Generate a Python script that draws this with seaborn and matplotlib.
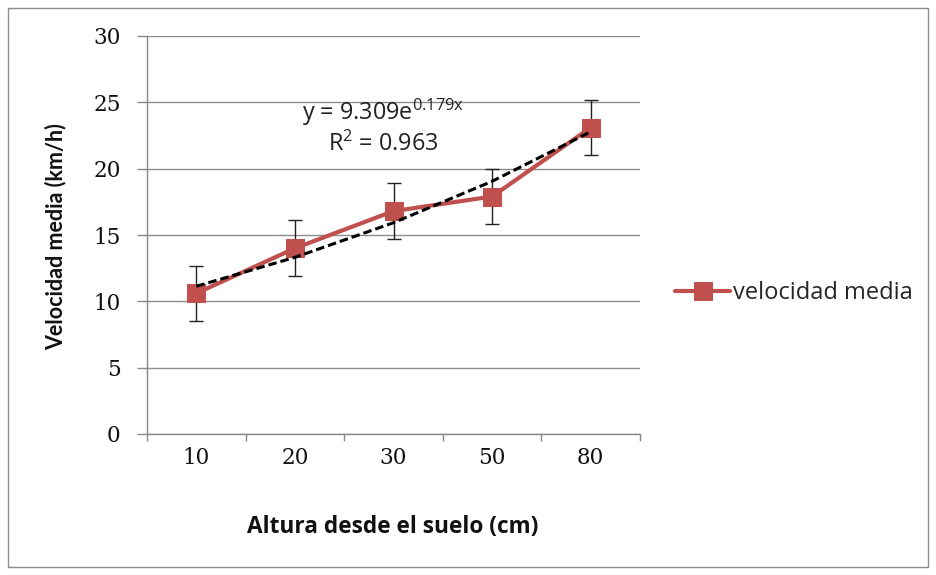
import numpy as np
import pandas as pd
import matplotlib
matplotlib.use("Agg")
import matplotlib.pyplot as plt
import seaborn as sns
from matplotlib.patches import Rectangle

categories = ["10", "20", "30", "50", "80"]
velocidad = [10.6, 14.0, 16.8, 17.9, 23.1]
error = [2.1, 2.1, 2.1, 2.1, 2.1]
trend_a = 9.309
trend_b = 0.179
y_ticks = [0, 5, 10, 15, 20, 25, 30]

sns.set_theme(style="white")
plt.rcParams['font.family'] = ['Open Sans', 'DejaVu Sans']
plt.rcParams['mathtext.fontset'] = 'custom'
plt.rcParams['mathtext.rm'] = 'Open Sans'

fig = plt.figure(figsize=(9.36, 5.75), dpi=100)
ax = fig.add_axes([147/936, 1-434/575, (640-147)/936, (434-36)/575])

pos = np.arange(len(categories))
df = pd.DataFrame({"pos": pos, "v": velocidad})
trend = trend_a * np.exp(trend_b * (pos + 1))
df_t = pd.DataFrame({"pos": pos, "t": trend})

red = "#C0504D"
ax.errorbar(pos, velocidad, yerr=error, fmt="none", ecolor="#222222",
            elinewidth=1.0, capsize=4.7, capthick=1.0, zorder=2)
sns.lineplot(data=df, x="pos", y="v", ax=ax, color=red, linewidth=3,
             marker="s", markersize=13.5, markeredgecolor=red,
             label="velocidad media", zorder=3)
sns.lineplot(data=df_t, x="pos", y="t", ax=ax, color="black", linewidth=2.2,
             linestyle=(0, (2.8, 1.3)), zorder=4, legend=False)

ax.set_xlim(-0.5, len(categories) - 0.5)
ax.set_ylim(0, 30)
ax.set_yticks(y_ticks)
ax.set_yticklabels([str(t) for t in y_ticks], family="DejaVu Serif", fontsize=15.5, color="#111111")
ax.set_xticks(pos)
ax.set_xticklabels(categories, family="DejaVu Serif", fontsize=15.5, color="#111111")
ax.tick_params(axis="x", length=0, pad=9)
ax.tick_params(axis="y", length=7, width=1, color="#888888", pad=12, direction="out", left=True)
ax.set_xticks(np.arange(-0.5, len(categories)), minor=True)
ax.tick_params(axis="x", which="minor", length=5, width=1, color="#888888", direction="out", bottom=True)

ax.yaxis.grid(True, color="#8c8c8c", linewidth=1)
ax.xaxis.grid(False)
for s in ["top", "right"]:
    ax.spines[s].set_visible(False)
for s in ["left", "bottom"]:
    ax.spines[s].set_color("#888888")
    ax.spines[s].set_linewidth(1)

ax.set_xlabel("")
ax.set_ylabel("")
fig.text(393/936, 1-527/575, "Altura desde el suelo (cm)", fontsize=16.3, fontweight="bold",
         ha="center", va="center", color="#111111")
fig.text(56/936, 1-237/575, "Velocidad media (km/h)", family="Lato", fontsize=15.5, fontweight="bold",
         ha="center", va="center", rotation=90, color="#111111")

fig.text(383/936, 1-112/575, r"y = 9.309e$^{\mathrm{0.179x}}$", fontsize=16.8,
         ha="center", va="center", color="#222222")
fig.text(383/936, 1-144/575, r"R$^{\mathrm{2}}$ = 0.963", fontsize=16.8,
         ha="center", va="center", color="#222222")

leg = ax.legend(loc="center left", bbox_to_anchor=(675/936, 1-293/575),
                bbox_transform=fig.transFigure, frameon=False, fontsize=17,
                handlelength=2.35, handletextpad=0.1, borderaxespad=0, borderpad=0)

fig.patches.append(Rectangle((8/936, 8/575), 920/936, 559/575, transform=fig.transFigure,
                             fill=False, edgecolor="#8c8c8c", linewidth=1))

fig.savefig("out.png", dpi=100)
